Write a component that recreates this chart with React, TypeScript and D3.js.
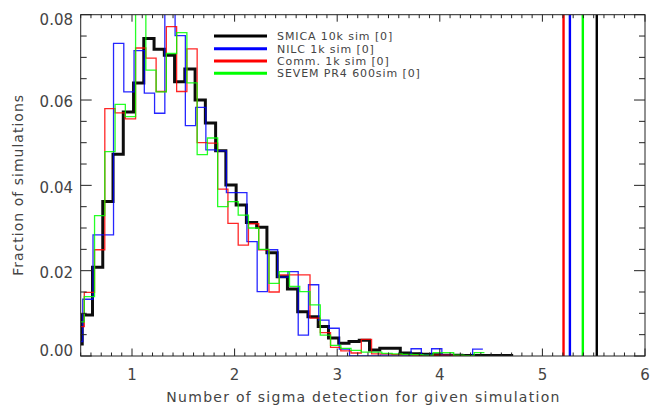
import React from "react";
import * as d3 from "d3";

// ---- data ----
const BIN_WIDTH = 0.1;
const SMICA_START = 0.415;
const NILC_START = 0.42;
const COMM_START = 0.435;
const SEVEM_START = 0.435;

const SMICA = [0.0028, 0.0096, 0.0208, 0.0362, 0.0473, 0.0572, 0.064, 0.0744, 0.0719, 0.0705, 0.0643, 0.0673, 0.06, 0.0546, 0.0481, 0.0401, 0.0354, 0.0313, 0.0302, 0.0242, 0.0186, 0.0157, 0.0104, 0.0092, 0.0069, 0.0042, 0.003, 0.0034, 0.0037, 0.0014, 0.0018, 0.0018, 0.0007, 0.0005, 0.0004, 0.0003, 0.0002, 0.0002, 0.0001, 0.0001, 0.0001, 0.0001, 0.0001];
const NILC = [0.0034, 0.0133, 0.0284, 0.0284, 0.0733, 0.0619, 0.0716, 0.0616, 0.0569, 0.084, 0.0751, 0.054, 0.0583, 0.0483, 0.0481, 0.0383, 0.0383, 0.0268, 0.0151, 0.0249, 0.0185, 0.0198, 0.0049, 0.0167, 0.0084, 0.0065, 0.0016, 0, 0, 0, 0.0002, 0.0002, 0.0002, 0.0017, 0.0002, 0.0017, 0.0002, 0, 0, 0.0016];
const COMM = [0.0069, 0.0149, 0.0249, 0.058, 0.057, 0.0556, 0.0722, 0.0698, 0.062, 0.0772, 0.062, 0.072, 0.05, 0.0499, 0.0391, 0.0311, 0.026, 0.031, 0.0249, 0.015, 0.019, 0.019, 0.019, 0.0089, 0.0055, 0.002, 0.0012, 0.0007, 0.0039, 0.0005, 0.0005, 0.0003, 0.0003, 0.0002, 0, 0.0002, 0.0002, 0.0001, 0.0001];
const SEVEM = [0.008, 0.0139, 0.0329, 0.0479, 0.059, 0.0561, 0.084, 0.067, 0.0619, 0.0709, 0.0758, 0.064, 0.0472, 0.0511, 0.035, 0.0362, 0.033, 0.03, 0.025, 0.017, 0.0198, 0.0163, 0.0151, 0.012, 0.0049, 0.0025, 0.0018, 0.0013, 0.0009, 0.0009, 0.0006, 0.0005, 0.0004, 0.0003, 0.0002, 0.0008, 0.0008, 0.0002, 0.0001, 0.0008];

const SERIES_NAMES = ["SMICA 10k sim [0]", "NILC 1k sim [0]", "Comm. 1k sim [0]", "SEVEM PR4 600sim [0]"];
const SERIES_COLORS = ["#000000", "#0000ff", "#ff0000", "#00ff00"];
const DETECTION = [5.53, 5.268, 5.206, 5.394];

const X_TICKS = [1, 2, 3, 4, 5, 6];
const Y_TICKS = [0, 0.02, 0.04, 0.06, 0.08];
const Y_TICK_LABELS = ["0.00", "0.02", "0.04", "0.06", "0.08"];

const X_TITLE = "Number of sigma detection for given simulation";
const Y_TITLE = "Fraction of simulations";

const W = 662;
const H = 405;
const L = 80.7, R = 645, T = 14.7, B = 356;

export default function App() {
  const x = d3.scaleLinear().domain([0.5, 6]).range([L, R]);
  const y = d3.scaleLinear().domain([0, 0.08]).range([B, T]);

  const hist = [
    { vals: SMICA, start: SMICA_START },
    { vals: NILC, start: NILC_START },
    { vals: COMM, start: COMM_START },
    { vals: SEVEM, start: SEVEM_START },
  ];
  const line = d3
    .line<[number, number]>()
    .x((d) => x(d[0]))
    .y((d) => y(d[1]))
    .curve(d3.curveStepAfter);
  const pathFor = (vals: number[], start: number) => {
    const pts: [number, number][] = vals.map((v, i) => [start + i * BIN_WIDTH, v]);
    pts.push([start + vals.length * BIN_WIDTH, vals[vals.length - 1]]);
    return line(pts) || "";
  };

  const xMinor = d3.range(5, 61).map((i) => i / 10).filter((v) => Math.abs(v - Math.round(v)) > 1e-6);
  const yMinor = d3.range(0, 17).map((i) => i * 0.005).filter((v) => Math.abs(v / 0.02 - Math.round(v / 0.02)) > 1e-6);

  const axisColor = "#222";
  const textColor = "#444";
  const font = "DejaVu Sans";

  const legendX0 = 214, legendX1 = 267, legendTextX = 277;
  const legendY = [36, 48.7, 61, 73.3];

  return (
    <svg width={W} height={H} style={{ position: "absolute", left: 0, top: 0, background: "#fff" }}>
      <rect x={0} y={0} width={W} height={H} fill="#fff" />
      <defs>
        <clipPath id="plotclip">
          <rect x={L} y={T} width={R - L} height={B - T} />
        </clipPath>
      </defs>

      {/* histograms */}
      <g clipPath="url(#plotclip)" fill="none">
        <path d={pathFor(hist[0].vals, hist[0].start)} stroke="#000" strokeWidth={3} opacity={0.95} />
        {hist.slice(1).map((h, i) => (
          <path key={i} d={pathFor(h.vals, h.start)} stroke={SERIES_COLORS[i + 1]} strokeWidth={1.3} opacity={0.85} />
        ))}
      </g>

      {/* detection lines */}
      {DETECTION.map((v, i) => (
        <line key={i} x1={x(v)} x2={x(v)} y1={T} y2={B} stroke={SERIES_COLORS[i]} strokeWidth={2.4} />
      ))}

      {/* frame */}
      <rect x={L} y={T} width={R - L} height={B - T} fill="none" stroke={axisColor} strokeWidth={1} />

      {/* x ticks */}
      {X_TICKS.map((v) => (
        <g key={"xm" + v}>
          <line x1={x(v)} x2={x(v)} y1={B} y2={B - 7.5} stroke={axisColor} />
          <line x1={x(v)} x2={x(v)} y1={T} y2={T + 7} stroke={axisColor} />
          <text x={x(v)} y={380} textAnchor="middle" fontFamily={font} fontSize={15} fill={textColor}>
            {v}
          </text>
        </g>
      ))}
      {xMinor.map((v) => (
        <g key={"xn" + v}>
          <line x1={x(v)} x2={x(v)} y1={B} y2={B - 3.5} stroke={axisColor} />
          <line x1={x(v)} x2={x(v)} y1={T} y2={T + 3.5} stroke={axisColor} />
        </g>
      ))}

      {/* y ticks */}
      {Y_TICKS.map((v, i) => (
        <g key={"ym" + v}>
          <line x1={L} x2={L + 11} y1={y(v)} y2={y(v)} stroke={axisColor} />
          <line x1={R} x2={R - 11} y1={y(v)} y2={y(v)} stroke={axisColor} />
          <text
            x={73}
            y={Math.min(351, Math.max(20, y(v) + 2))}
            dy="0.36em"
            textAnchor="end"
            fontFamily={font}
            fontSize={15}
            fill={textColor}
          >
            {Y_TICK_LABELS[i]}
          </text>
        </g>
      ))}
      {yMinor.map((v) => (
        <g key={"yn" + v}>
          <line x1={L} x2={L + 6} y1={y(v)} y2={y(v)} stroke={axisColor} />
          <line x1={R} x2={R - 6} y1={y(v)} y2={y(v)} stroke={axisColor} />
        </g>
      ))}

      {/* axis titles */}
      <text
        x={(L + R) / 2}
        y={401.5}
        textAnchor="middle"
        fontFamily={font}
        fontSize={14}
        fill={textColor}
        textLength={393}
        lengthAdjust="spacing"
      >
        {X_TITLE}
      </text>
      <text
        transform={`translate(23, ${(T + B) / 2}) rotate(-90)`}
        textAnchor="middle"
        fontFamily={font}
        fontSize={14}
        fill={textColor}
        textLength={181}
        lengthAdjust="spacing"
      >
        {Y_TITLE}
      </text>

      {/* legend */}
      {SERIES_NAMES.map((name, i) => (
        <g key={name}>
          <line x1={legendX0} x2={legendX1} y1={legendY[i]} y2={legendY[i]} stroke={SERIES_COLORS[i]} strokeWidth={3} />
          <text
            x={legendTextX}
            y={legendY[i]}
            dy="0.36em"
            fontFamily={font}
            fontSize={11}
            letterSpacing={0.9}
            fill={textColor}
          >
            {name}
          </text>
        </g>
      ))}
    </svg>
  );
}
